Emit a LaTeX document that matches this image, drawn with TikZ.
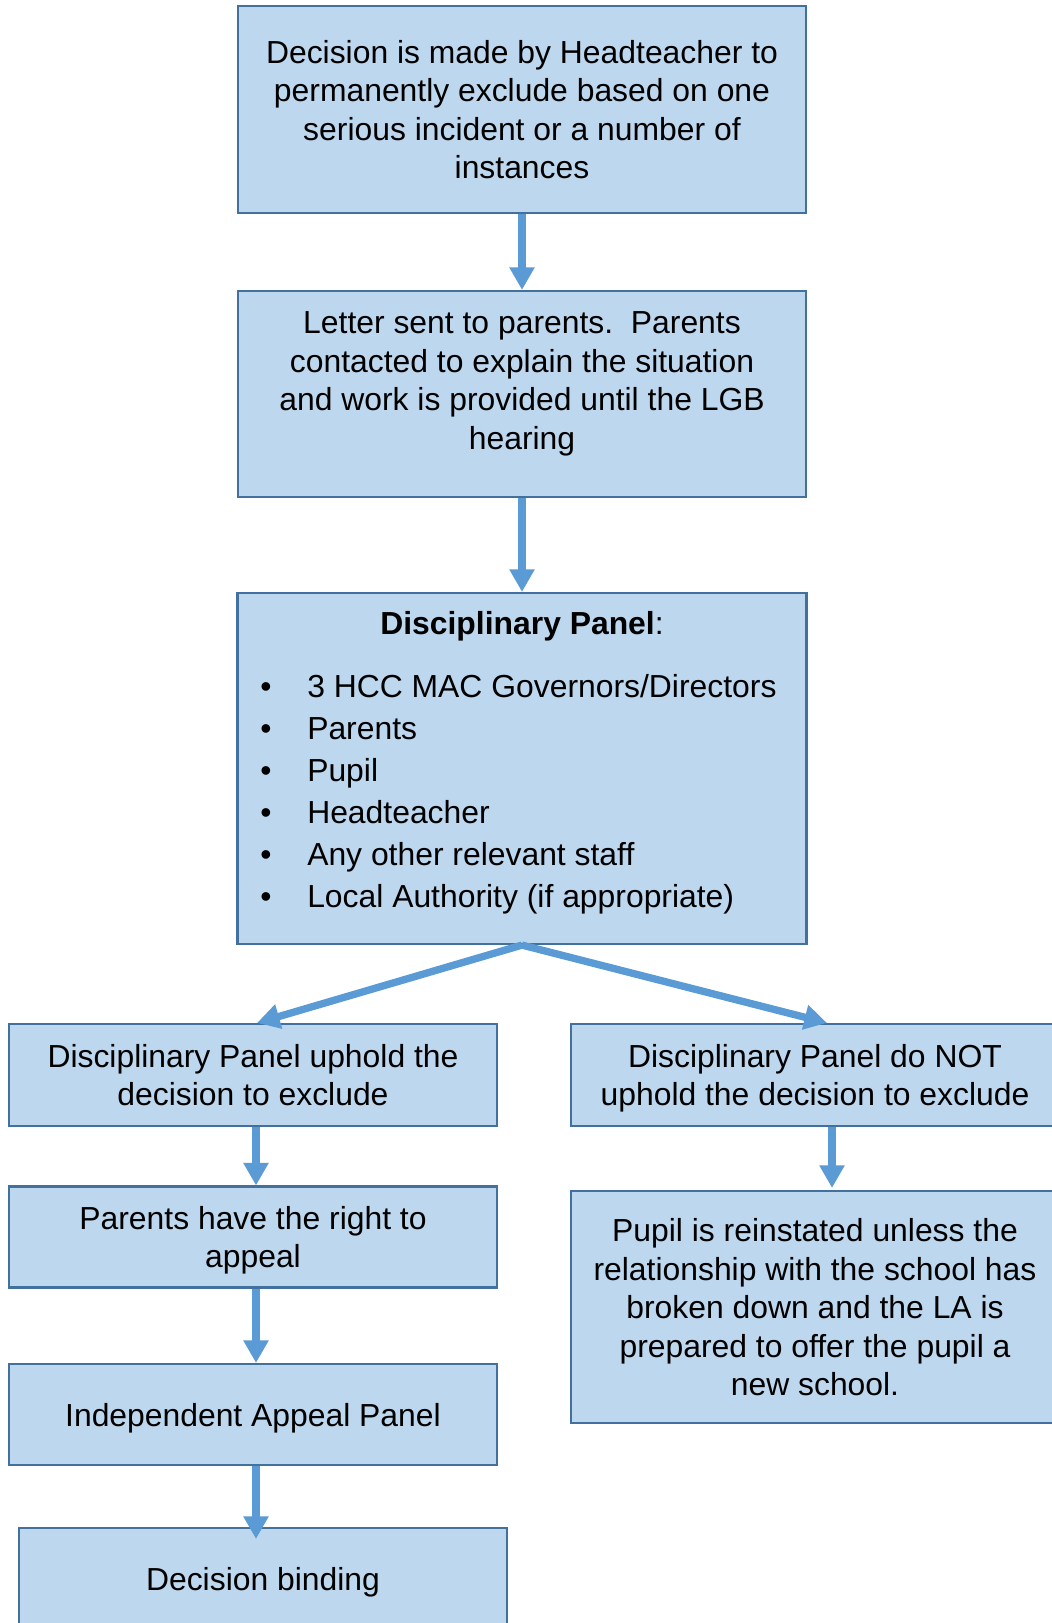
\documentclass[tikz,border=0pt]{standalone}
\usepackage{fontspec}
\setmainfont{Liberation Sans}
\usetikzlibrary{arrows.meta,calc}
\definecolor{boxfill}{HTML}{BDD7EE}
\definecolor{boxline}{HTML}{41719C}
\definecolor{arrowc}{HTML}{5B9BD5}
\newcommand\diagfont{\fontsize{23.9pt}{28.9pt}\selectfont}
\tikzset{
  box/.style={draw=boxline, fill=boxfill, line width=1.6pt, inner sep=0pt, align=center, font=\diagfont, text depth=0pt},
  txt/.style={inner sep=0pt, align=center, font=\diagfont},
  arr/.style={draw=arrowc, line width=5.5pt, -{Triangle[width=18pt,length=17pt]}}
}
\begin{document}
\begin{tikzpicture}[x=0.75pt, y=-0.75pt]
\useasboundingbox (0,0) rectangle (1052,1623);
\clip (0,0) rectangle (1052,1623);
\fill[white] (0,0) rectangle (1052,1623);

% boxes
\node[box, minimum width=426pt, minimum height=155.25pt] (t) at (522,109.5)
  {Decision is made by Headteacher to\\permanently exclude based on one\\serious incident or a number of\\instances};
\node[box, minimum width=426pt, minimum height=154.5pt] (b2) at (522,394) {};
\node[box, minimum width=426.75pt, minimum height=263.25pt] (b3) at (522,768.5) {};
\node[box, minimum width=366pt, minimum height=76.5pt] (lb1) at (253,1075)
  {Disciplinary Panel uphold the\\decision to exclude};
\node[box, minimum width=366pt, minimum height=76.5pt] (rb1) at (815,1075)
  {Disciplinary Panel do NOT\\uphold the decision to exclude};
\node[box, minimum width=366pt, minimum height=75.75pt] (lb2) at (253,1237)
  {Parents have the right to\\appeal};
\node[box, minimum width=366pt, minimum height=174pt] (rb2) at (815,1307)
  {Pupil is reinstated unless the\\relationship with the school has\\broken down and the LA is\\prepared to offer the pupil a\\new school.};
\node[box, minimum width=366pt, minimum height=75.75pt] (lb3) at (253,1414.5)
  {Independent Appeal Panel};
\node[box, minimum width=366pt, minimum height=93pt] (lb4) at (263,1590) {};

% texts placed inside boxes
\node[txt] (b2t) at (522,384)
  {Letter sent to parents.\ \ Parents\\contacted to explain the situation\\and work is provided until the LGB\\hearing};
\node[txt, anchor=base] (b3h) at (522,634.5) {\textbf{Disciplinary Panel}:};
\foreach \y/\s [count=\i] in {697/{3 HCC MAC Governors/Directors}, 739/{Parents}, 781/{Pupil}, 823/{Headteacher}, 865/{Any other relevant staff}, 907/{Local Authority (if appropriate)}}{
  \node[txt, anchor=base] (bul\i) at (266,\y) {•};
  \node[txt, anchor=base west] (item\i) at (307,\y) {\s};
}
\node[txt, anchor=base] (lb4t) at (263,1590.5) {Decision binding};

% arrows
\draw[arr] (t.south) -- (b2.north);
\draw[arr] (b2.south) -- (b3.north);
\draw[arr] (b3.south) -- ($(lb1.north)+(4,0)$);
\draw[arr] (b3.south) -- ($(rb1.north)+(12,0)$);
\draw[arr] ($(lb1.south)+(3,0)$) -- ($(lb2.north)+(3,0)$);
\draw[arr] ($(rb1.south)+(17,0)$) -- ($(rb2.north)+(17,-2)$);
\draw[arr] ($(lb2.south)+(3,0)$) -- ($(lb3.north)+(3,0)$);
\coordinate (tipb) at ($(lb3.south |- lb4.north)+(3,12)$);
\draw[arr] ($(lb3.south)+(3,0)$) -- (tipb);
\end{tikzpicture}
\end{document}
